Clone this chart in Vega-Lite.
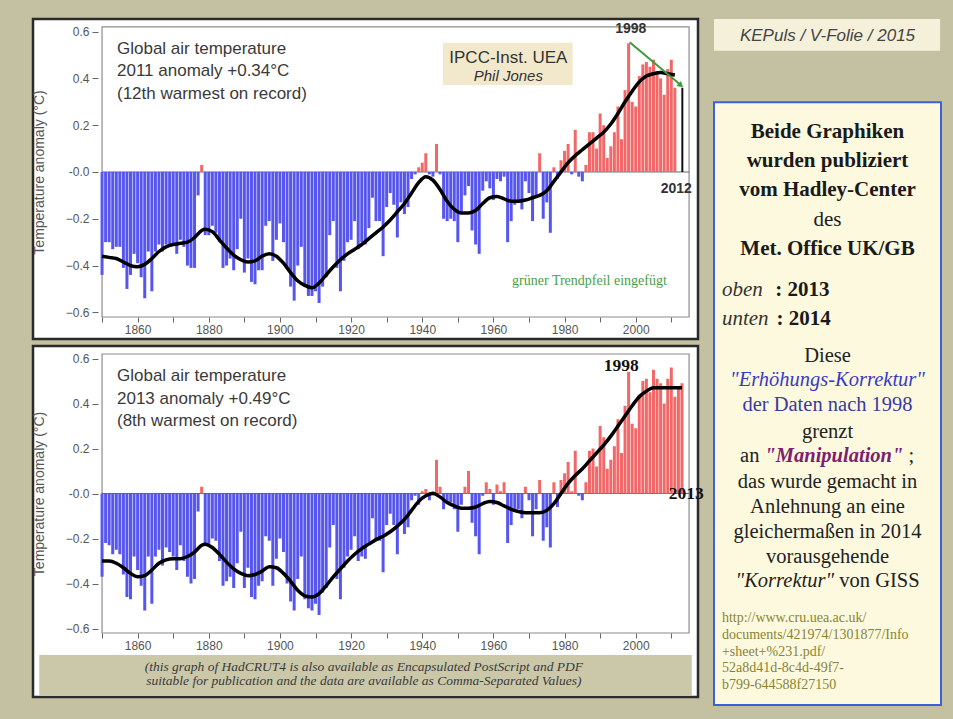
{
  "$schema": "https://vega.github.io/schema/vega-lite/v6.json",
  "background": "#c4c0a2",
  "padding": {"left": 31, "top": 17, "right": 12, "bottom": 7},
  "spacing": 8,
  "config": {"view": {"stroke": null}, "font": "Liberation Sans"},
  "datasets": {
    "h3": [
      {"year":1850,"v":-0.44},{"year":1851,"v":-0.30},{"year":1852,"v":-0.30},{"year":1853,"v":-0.33},{"year":1854,"v":-0.32},{"year":1855,"v":-0.32},{"year":1856,"v":-0.41},{"year":1857,"v":-0.50},{"year":1858,"v":-0.44},{"year":1859,"v":-0.35},
      {"year":1860,"v":-0.39},{"year":1861,"v":-0.45},{"year":1862,"v":-0.54},{"year":1863,"v":-0.34},{"year":1864,"v":-0.51},{"year":1865,"v":-0.34},{"year":1866,"v":-0.31},{"year":1867,"v":-0.34},{"year":1868,"v":-0.31},{"year":1869,"v":-0.31},
      {"year":1870,"v":-0.31},{"year":1871,"v":-0.35},{"year":1872,"v":-0.29},{"year":1873,"v":-0.32},{"year":1874,"v":-0.40},{"year":1875,"v":-0.41},{"year":1876,"v":-0.41},{"year":1877,"v":-0.10},{"year":1878,"v":0.03},{"year":1879,"v":-0.27},
      {"year":1880,"v":-0.27},{"year":1881,"v":-0.23},{"year":1882,"v":-0.26},{"year":1883,"v":-0.30},{"year":1884,"v":-0.41},{"year":1885,"v":-0.40},{"year":1886,"v":-0.37},{"year":1887,"v":-0.42},{"year":1888,"v":-0.33},{"year":1889,"v":-0.20},
      {"year":1890,"v":-0.43},{"year":1891,"v":-0.37},{"year":1892,"v":-0.47},{"year":1893,"v":-0.48},{"year":1894,"v":-0.42},{"year":1895,"v":-0.42},{"year":1896,"v":-0.23},{"year":1897,"v":-0.21},{"year":1898,"v":-0.38},{"year":1899,"v":-0.29},
      {"year":1900,"v":-0.22},{"year":1901,"v":-0.30},{"year":1902,"v":-0.41},{"year":1903,"v":-0.49},{"year":1904,"v":-0.55},{"year":1905,"v":-0.40},{"year":1906,"v":-0.32},{"year":1907,"v":-0.49},{"year":1908,"v":-0.53},{"year":1909,"v":-0.53},
      {"year":1910,"v":-0.51},{"year":1911,"v":-0.56},{"year":1912,"v":-0.49},{"year":1913,"v":-0.45},{"year":1914,"v":-0.27},{"year":1915,"v":-0.21},{"year":1916,"v":-0.41},{"year":1917,"v":-0.51},{"year":1918,"v":-0.38},{"year":1919,"v":-0.30},
      {"year":1920,"v":-0.29},{"year":1921,"v":-0.21},{"year":1922,"v":-0.33},{"year":1923,"v":-0.30},{"year":1924,"v":-0.31},{"year":1925,"v":-0.24},{"year":1926,"v":-0.11},{"year":1927,"v":-0.21},{"year":1928,"v":-0.21},{"year":1929,"v":-0.36},
      {"year":1930,"v":-0.15},{"year":1931,"v":-0.09},{"year":1932,"v":-0.14},{"year":1933,"v":-0.28},{"year":1934,"v":-0.13},{"year":1935,"v":-0.18},{"year":1936,"v":-0.15},{"year":1937,"v":-0.03},{"year":1938,"v":-0.01},{"year":1939,"v":0.02},
      {"year":1940,"v":0.04},{"year":1941,"v":0.08},{"year":1942,"v":-0.01},{"year":1943,"v":-0.02},{"year":1944,"v":0.12},{"year":1945,"v":-0.01},{"year":1946,"v":-0.20},{"year":1947,"v":-0.21},{"year":1948,"v":-0.20},{"year":1949,"v":-0.21},
      {"year":1950,"v":-0.30},{"year":1951,"v":-0.17},{"year":1952,"v":-0.10},{"year":1953,"v":-0.06},{"year":1954,"v":-0.25},{"year":1955,"v":-0.31},{"year":1956,"v":-0.35},{"year":1957,"v":-0.08},{"year":1958,"v":-0.04},{"year":1959,"v":-0.07},
      {"year":1960,"v":-0.12},{"year":1961,"v":-0.03},{"year":1962,"v":-0.04},{"year":1963,"v":-0.02},{"year":1964,"v":-0.30},{"year":1965,"v":-0.21},{"year":1966,"v":-0.14},{"year":1967,"v":-0.12},{"year":1968,"v":-0.16},{"year":1969,"v":-0.04},
      {"year":1970,"v":-0.09},{"year":1971,"v":-0.21},{"year":1972,"v":-0.11},{"year":1973,"v":0.08},{"year":1974,"v":-0.20},{"year":1975,"v":-0.13},{"year":1976,"v":-0.26},{"year":1977,"v":0.02},{"year":1978,"v":-0.03},{"year":1979,"v":0.05},
      {"year":1980,"v":0.09},{"year":1981,"v":0.12},{"year":1982,"v":-0.01},{"year":1983,"v":0.18},{"year":1984,"v":-0.02},{"year":1985,"v":-0.04},{"year":1986,"v":0.03},{"year":1987,"v":0.17},{"year":1988,"v":0.17},{"year":1989,"v":0.10},
      {"year":1990,"v":0.25},{"year":1991,"v":0.20},{"year":1992,"v":0.06},{"year":1993,"v":0.11},{"year":1994,"v":0.17},{"year":1995,"v":0.28},{"year":1996,"v":0.14},{"year":1997,"v":0.35},{"year":1998,"v":0.55},{"year":1999,"v":0.30},
      {"year":2000,"v":0.28},{"year":2001,"v":0.41},{"year":2002,"v":0.46},{"year":2003,"v":0.47},{"year":2004,"v":0.45},{"year":2005,"v":0.48},{"year":2006,"v":0.43},{"year":2007,"v":0.40},{"year":2008,"v":0.33},{"year":2009,"v":0.44},
      {"year":2010,"v":0.48},{"year":2011,"v":0.36}
    ],
    "h4": [
      {"year":1850,"v":-0.37},{"year":1851,"v":-0.22},{"year":1852,"v":-0.23},{"year":1853,"v":-0.27},{"year":1854,"v":-0.25},{"year":1855,"v":-0.27},{"year":1856,"v":-0.36},{"year":1857,"v":-0.46},{"year":1858,"v":-0.47},{"year":1859,"v":-0.28},
      {"year":1860,"v":-0.34},{"year":1861,"v":-0.41},{"year":1862,"v":-0.52},{"year":1863,"v":-0.28},{"year":1864,"v":-0.49},{"year":1865,"v":-0.28},{"year":1866,"v":-0.25},{"year":1867,"v":-0.32},{"year":1868,"v":-0.24},{"year":1869,"v":-0.26},
      {"year":1870,"v":-0.28},{"year":1871,"v":-0.34},{"year":1872,"v":-0.23},{"year":1873,"v":-0.30},{"year":1874,"v":-0.37},{"year":1875,"v":-0.40},{"year":1876,"v":-0.38},{"year":1877,"v":-0.08},{"year":1878,"v":0.03},{"year":1879,"v":-0.23},
      {"year":1880,"v":-0.23},{"year":1881,"v":-0.20},{"year":1882,"v":-0.21},{"year":1883,"v":-0.30},{"year":1884,"v":-0.41},{"year":1885,"v":-0.39},{"year":1886,"v":-0.37},{"year":1887,"v":-0.42},{"year":1888,"v":-0.31},{"year":1889,"v":-0.17},
      {"year":1890,"v":-0.42},{"year":1891,"v":-0.33},{"year":1892,"v":-0.46},{"year":1893,"v":-0.47},{"year":1894,"v":-0.41},{"year":1895,"v":-0.39},{"year":1896,"v":-0.19},{"year":1897,"v":-0.21},{"year":1898,"v":-0.41},{"year":1899,"v":-0.29},
      {"year":1900,"v":-0.20},{"year":1901,"v":-0.26},{"year":1902,"v":-0.40},{"year":1903,"v":-0.48},{"year":1904,"v":-0.52},{"year":1905,"v":-0.38},{"year":1906,"v":-0.28},{"year":1907,"v":-0.47},{"year":1908,"v":-0.51},{"year":1909,"v":-0.52},
      {"year":1910,"v":-0.49},{"year":1911,"v":-0.54},{"year":1912,"v":-0.44},{"year":1913,"v":-0.42},{"year":1914,"v":-0.24},{"year":1915,"v":-0.14},{"year":1916,"v":-0.38},{"year":1917,"v":-0.47},{"year":1918,"v":-0.33},{"year":1919,"v":-0.28},
      {"year":1920,"v":-0.25},{"year":1921,"v":-0.19},{"year":1922,"v":-0.30},{"year":1923,"v":-0.28},{"year":1924,"v":-0.29},{"year":1925,"v":-0.22},{"year":1926,"v":-0.11},{"year":1927,"v":-0.21},{"year":1928,"v":-0.21},{"year":1929,"v":-0.35},
      {"year":1930,"v":-0.14},{"year":1931,"v":-0.09},{"year":1932,"v":-0.14},{"year":1933,"v":-0.27},{"year":1934,"v":-0.13},{"year":1935,"v":-0.18},{"year":1936,"v":-0.15},{"year":1937,"v":-0.03},{"year":1938,"v":-0.01},{"year":1939,"v":-0.05},
      {"year":1940,"v":0.01},{"year":1941,"v":0.02},{"year":1942,"v":-0.03},{"year":1943,"v":0.01},{"year":1944,"v":0.15},{"year":1945,"v":0.03},{"year":1946,"v":-0.07},{"year":1947,"v":-0.04},{"year":1948,"v":-0.04},{"year":1949,"v":-0.07},
      {"year":1950,"v":-0.17},{"year":1951,"v":-0.05},{"year":1952,"v":0.03},{"year":1953,"v":0.10},{"year":1954,"v":-0.13},{"year":1955,"v":-0.19},{"year":1956,"v":-0.27},{"year":1957,"v":-0.01},{"year":1958,"v":0.05},{"year":1959,"v":0.02},
      {"year":1960,"v":-0.05},{"year":1961,"v":0.04},{"year":1962,"v":0.01},{"year":1963,"v":0.05},{"year":1964,"v":-0.22},{"year":1965,"v":-0.14},{"year":1966,"v":-0.07},{"year":1967,"v":-0.07},{"year":1968,"v":-0.11},{"year":1969,"v":0.03},
      {"year":1970,"v":-0.03},{"year":1971,"v":-0.19},{"year":1972,"v":-0.07},{"year":1973,"v":0.06},{"year":1974,"v":-0.21},{"year":1975,"v":-0.15},{"year":1976,"v":-0.24},{"year":1977,"v":0.05},{"year":1978,"v":-0.06},{"year":1979,"v":0.06},
      {"year":1980,"v":0.09},{"year":1981,"v":0.14},{"year":1982,"v":0.01},{"year":1983,"v":0.19},{"year":1984,"v":-0.01},{"year":1985,"v":-0.03},{"year":1986,"v":0.05},{"year":1987,"v":0.19},{"year":1988,"v":0.20},{"year":1989,"v":0.12},
      {"year":1990,"v":0.30},{"year":1991,"v":0.25},{"year":1992,"v":0.11},{"year":1993,"v":0.15},{"year":1994,"v":0.21},{"year":1995,"v":0.33},{"year":1996,"v":0.18},{"year":1997,"v":0.39},{"year":1998,"v":0.54},{"year":1999,"v":0.31},
      {"year":2000,"v":0.29},{"year":2001,"v":0.44},{"year":2002,"v":0.50},{"year":2003,"v":0.51},{"year":2004,"v":0.45},{"year":2005,"v":0.55},{"year":2006,"v":0.51},{"year":2007,"v":0.49},{"year":2008,"v":0.40},{"year":2009,"v":0.51},
      {"year":2010,"v":0.56},{"year":2011,"v":0.43},{"year":2012,"v":0.47},{"year":2013,"v":0.49}
    ],
    "s3": [
      {"year":1850,"v":-0.36},{"year":1852,"v":-0.365},{"year":1854,"v":-0.37},{"year":1856,"v":-0.385},{"year":1858,"v":-0.40},{"year":1860,"v":-0.405},{"year":1862,"v":-0.395},{"year":1864,"v":-0.37},{"year":1866,"v":-0.34},{"year":1868,"v":-0.32},
      {"year":1870,"v":-0.31},{"year":1872,"v":-0.305},{"year":1874,"v":-0.30},{"year":1876,"v":-0.28},{"year":1878,"v":-0.25},{"year":1879,"v":-0.245},{"year":1881,"v":-0.255},{"year":1883,"v":-0.29},{"year":1885,"v":-0.325},{"year":1887,"v":-0.355},
      {"year":1889,"v":-0.375},{"year":1891,"v":-0.385},{"year":1893,"v":-0.38},{"year":1895,"v":-0.36},{"year":1897,"v":-0.35},{"year":1899,"v":-0.36},{"year":1901,"v":-0.39},{"year":1903,"v":-0.43},{"year":1905,"v":-0.465},{"year":1907,"v":-0.485},
      {"year":1909,"v":-0.495},{"year":1911,"v":-0.475},{"year":1913,"v":-0.44},{"year":1915,"v":-0.405},{"year":1917,"v":-0.375},{"year":1919,"v":-0.35},{"year":1921,"v":-0.33},{"year":1923,"v":-0.31},{"year":1925,"v":-0.285},{"year":1927,"v":-0.26},
      {"year":1929,"v":-0.235},{"year":1931,"v":-0.205},{"year":1933,"v":-0.17},{"year":1935,"v":-0.135},{"year":1937,"v":-0.09},{"year":1939,"v":-0.045},{"year":1941,"v":-0.02},{"year":1943,"v":-0.035},{"year":1945,"v":-0.075},{"year":1947,"v":-0.125},
      {"year":1949,"v":-0.16},{"year":1951,"v":-0.175},{"year":1953,"v":-0.175},{"year":1955,"v":-0.165},{"year":1957,"v":-0.135},{"year":1959,"v":-0.11},{"year":1961,"v":-0.105},{"year":1963,"v":-0.115},{"year":1965,"v":-0.125},{"year":1967,"v":-0.125},
      {"year":1969,"v":-0.12},{"year":1971,"v":-0.11},{"year":1973,"v":-0.10},{"year":1975,"v":-0.08},{"year":1977,"v":-0.04},{"year":1979,"v":0.0},{"year":1981,"v":0.04},{"year":1983,"v":0.07},{"year":1985,"v":0.095},{"year":1987,"v":0.12},
      {"year":1989,"v":0.145},{"year":1991,"v":0.17},{"year":1993,"v":0.205},{"year":1995,"v":0.25},{"year":1997,"v":0.30},{"year":1999,"v":0.345},{"year":2001,"v":0.385},{"year":2003,"v":0.41},{"year":2005,"v":0.42},{"year":2007,"v":0.425},
      {"year":2009,"v":0.42},{"year":2011,"v":0.415}
    ],
    "s4": [
      {"year":1850,"v":-0.30},{"year":1852,"v":-0.30},{"year":1854,"v":-0.31},{"year":1856,"v":-0.33},{"year":1858,"v":-0.355},{"year":1860,"v":-0.37},{"year":1862,"v":-0.365},{"year":1864,"v":-0.34},{"year":1866,"v":-0.31},{"year":1868,"v":-0.295},
      {"year":1870,"v":-0.29},{"year":1872,"v":-0.29},{"year":1874,"v":-0.28},{"year":1876,"v":-0.26},{"year":1878,"v":-0.23},{"year":1879,"v":-0.225},{"year":1881,"v":-0.24},{"year":1883,"v":-0.27},{"year":1885,"v":-0.305},{"year":1887,"v":-0.335},
      {"year":1889,"v":-0.355},{"year":1891,"v":-0.365},{"year":1893,"v":-0.36},{"year":1895,"v":-0.345},{"year":1897,"v":-0.325},{"year":1899,"v":-0.33},{"year":1901,"v":-0.355},{"year":1903,"v":-0.39},{"year":1905,"v":-0.43},{"year":1907,"v":-0.455},
      {"year":1909,"v":-0.46},{"year":1911,"v":-0.445},{"year":1913,"v":-0.41},{"year":1915,"v":-0.37},{"year":1917,"v":-0.335},{"year":1919,"v":-0.30},{"year":1921,"v":-0.27},{"year":1923,"v":-0.245},{"year":1925,"v":-0.225},{"year":1927,"v":-0.205},
      {"year":1929,"v":-0.19},{"year":1931,"v":-0.17},{"year":1933,"v":-0.145},{"year":1935,"v":-0.115},{"year":1937,"v":-0.075},{"year":1939,"v":-0.035},{"year":1941,"v":-0.01},{"year":1943,"v":0.0},{"year":1945,"v":-0.015},{"year":1947,"v":-0.04},
      {"year":1949,"v":-0.055},{"year":1951,"v":-0.065},{"year":1953,"v":-0.065},{"year":1955,"v":-0.06},{"year":1957,"v":-0.045},{"year":1959,"v":-0.035},{"year":1961,"v":-0.04},{"year":1963,"v":-0.055},{"year":1965,"v":-0.07},{"year":1967,"v":-0.08},
      {"year":1969,"v":-0.085},{"year":1971,"v":-0.085},{"year":1973,"v":-0.085},{"year":1975,"v":-0.075},{"year":1977,"v":-0.045},{"year":1979,"v":0.0},{"year":1981,"v":0.045},{"year":1983,"v":0.08},{"year":1985,"v":0.11},{"year":1987,"v":0.145},
      {"year":1989,"v":0.18},{"year":1991,"v":0.215},{"year":1993,"v":0.255},{"year":1995,"v":0.30},{"year":1997,"v":0.345},{"year":1999,"v":0.39},{"year":2001,"v":0.43},{"year":2003,"v":0.455},{"year":2005,"v":0.47},{"year":2007,"v":0.47},
      {"year":2009,"v":0.47},{"year":2011,"v":0.47},{"year":2013,"v":0.47}
    ]
  },
  "hconcat": [
    {
      "spacing": 3,
      "vconcat": [
        {
          "width": 665, "height": 320,
          "view": {"fill": "#ffffff", "stroke": "#2a2a2a", "strokeWidth": 2.5},
          "layer": [
            {"data": {"values": [{"part": "plot"}]},
             "mark": {"type": "rect", "filled": false, "stroke": "#8c8c8c", "strokeWidth": 1.2},
             "encoding": {
               "x": {"datum": 1850, "type": "quantitative", "scale": {"domain": [1832, 2016.1], "nice": false, "zero": false},
                     "axis": {"values": [1850,1855,1860,1865,1870,1875,1880,1885,1890,1895,1900,1905,1910,1915,1920,1925,1930,1935,1940,1945,1950,1955,1960,1965,1970,1975,1980,1985,1990,1995,2000,2005,2010],
                              "format": "d", "labelExpr": "datum.value % 20 == 0 ? datum.label : ''", "title": null, "grid": false, "domain": false, "offset": -22,
                              "tickSize": 5, "tickColor": "#666666", "labelColor": "#555555", "labelFontSize": 12,
                              "labelFont": "Liberation Sans", "labelPadding": 2, "labelFlush": false, "labelOverlap": false, "zindex": 1}},
               "x2": {"datum": 2015},
               "y": {"datum": 0.62, "type": "quantitative", "scale": {"domain": [-0.714, 0.654], "nice": false, "zero": false},
                     "axis": {"values": [-0.6,-0.4,-0.2,0,0.2,0.4,0.6], "labelExpr": "datum.value == 0 ? '-0.0' : format(datum.value, '.1f')",
                              "title": "Temperature anomaly (°C)", "titleFont": "Liberation Sans", "titleFontSize": 14, "titleFontWeight": "normal",
                              "titleColor": "#555555", "titlePadding": 19, "titleY": 153, "grid": false, "domain": false, "offset": -65, "tickSize": 6, "tickColor": "#666666",
                              "labelColor": "#555555", "labelFontSize": 12, "labelFont": "Liberation Sans", "labelPadding": 3, "zindex": 1}},
               "y2": {"datum": -0.62}}},
            {"data": {"values": [{"part": "zero"}]},
             "mark": {"type": "rule", "color": "#666666", "strokeWidth": 1},
             "encoding": {"x": {"datum": 1850}, "x2": {"datum": 2015}, "y": {"datum": 0}}},
            {"data": {"name": "h3"},
             "mark": {"type": "bar", "width": 3},
             "encoding": {
               "x": {"field": "year", "type": "quantitative"},
               "y": {"field": "v", "type": "quantitative"},
               "y2": {"datum": 0},
               "color": {"condition": {"test": "datum.v > 0", "value": "#f26868"}, "value": "#5656ee"}}},
            {"data": {"name": "s3"},
             "mark": {"type": "line", "color": "#000000", "strokeWidth": 3.5, "interpolate": "monotone"},
             "encoding": {"x": {"field": "year", "type": "quantitative"}, "y": {"field": "v", "type": "quantitative"}}},
            {"data": {"values": [{"part": "end"}]},
             "mark": {"type": "rule", "color": "#111111", "strokeWidth": 2},
             "encoding": {"x": {"datum": 2013.1}, "y": {"datum": 0}, "y2": {"datum": 0.36}}},
            {"data": {"values": [{"part": "trend"}]},
             "mark": {"type": "rule", "color": "#3c9c3c", "strokeWidth": 2},
             "encoding": {"x": {"datum": 1998.3}, "y": {"datum": 0.555}, "x2": {"datum": 2012.4}, "y2": {"datum": 0.375}}},
            {"data": {"values": [{"part": "arrowhead"}]},
             "mark": {"type": "point", "shape": "triangle-right", "filled": true, "color": "#3c9c3c", "size": 45, "angle": 41, "opacity": 1},
             "encoding": {"x": {"datum": 2012.7}, "y": {"datum": 0.37}}},
            {"data": {"values": [{"part": "ipccbox"}]},
             "mark": {"type": "rect", "fill": "#f2e9cc"},
             "encoding": {"x": {"datum": 1945.8}, "x2": {"datum": 1982.3}, "y": {"datum": 0.552}, "y2": {"datum": 0.372}}},
            {"data": {"values": [{"t": "IPCC-Inst. UEA"}]},
             "mark": {"type": "text", "fontSize": 17, "color": "#333333", "baseline": "middle", "align": "center"},
             "encoding": {"x": {"datum": 1964.2}, "y": {"datum": 0.489}, "text": {"field": "t"}}},
            {"data": {"values": [{"t": "Phil Jones"}]},
             "mark": {"type": "text", "fontSize": 15, "fontStyle": "italic", "color": "#333333", "baseline": "middle", "align": "center"},
             "encoding": {"x": {"datum": 1964.2}, "y": {"datum": 0.41}, "text": {"field": "t"}}},
            {"data": {"values": [{"t": ["Global air temperature", "2011 anomaly +0.34°C", "(12th warmest on record)"]}]},
             "mark": {"type": "text", "fontSize": 17, "color": "#3a3a3a", "baseline": "middle", "align": "left", "lineHeight": 22.5},
             "encoding": {"x": {"datum": 1854.2}, "y": {"datum": 0.526}, "text": {"field": "t"}}},
            {"data": {"values": [{"t": "grüner Trendpfeil eingefügt"}]},
             "mark": {"type": "text", "fontSize": 14, "font": "Liberation Serif", "color": "#4a9e4a", "baseline": "middle", "align": "center"},
             "encoding": {"x": {"datum": 1987}, "y": {"datum": -0.466}, "text": {"field": "t"}}},
            {"data": {"values": [{"t": "1998"}]},
             "mark": {"type": "text", "fontSize": 14, "fontWeight": "bold", "color": "#333333", "baseline": "middle", "align": "center"},
             "encoding": {"x": {"datum": 1998.6}, "y": {"datum": 0.61}, "text": {"field": "t"}}},
            {"data": {"values": [{"t": "2012"}]},
             "mark": {"type": "text", "fontSize": 14, "fontWeight": "bold", "color": "#333333", "baseline": "middle", "align": "center"},
             "encoding": {"x": {"datum": 2011.4}, "y": {"datum": -0.072}, "text": {"field": "t"}}}
          ]
        },
        {
          "width": 665, "height": 351,
          "view": {"fill": "#ffffff", "stroke": "#2a2a2a", "strokeWidth": 2.5},
          "layer": [
            {"data": {"values": [{"part": "captionband"}]},
             "mark": {"type": "rect", "fill": "#cbc7a9"},
             "encoding": {
               "x": {"datum": 1832.35, "type": "quantitative", "scale": {"domain": [1832, 2016.1], "nice": false, "zero": false},
                     "axis": {"values": [1850,1855,1860,1865,1870,1875,1880,1885,1890,1895,1900,1905,1910,1915,1920,1925,1930,1935,1940,1945,1950,1955,1960,1965,1970,1975,1980,1985,1990,1995,2000,2005,2010],
                              "format": "d", "labelExpr": "datum.value % 20 == 0 ? datum.label : ''", "title": null, "grid": false, "domain": false, "offset": -64,
                              "tickSize": 5, "tickColor": "#666666", "labelColor": "#555555", "labelFontSize": 12,
                              "labelFont": "Liberation Sans", "labelPadding": 2, "labelFlush": false, "labelOverlap": false, "zindex": 1}},
               "x2": {"datum": 2015.75},
               "y": {"datum": -0.7178, "type": "quantitative", "scale": {"domain": [-0.9044, 0.6556], "nice": false, "zero": false},
                     "axis": {"values": [-0.6,-0.4,-0.2,0,0.2,0.4,0.6], "labelExpr": "datum.value == 0 ? '-0.0' : format(datum.value, '.1f')",
                              "title": "Temperature anomaly (°C)", "titleFont": "Liberation Sans", "titleFontSize": 14, "titleFontWeight": "normal",
                              "titleColor": "#555555", "titlePadding": 19, "titleY": 147.5, "grid": false, "domain": false, "offset": -65, "tickSize": 6, "tickColor": "#666666",
                              "labelColor": "#555555", "labelFontSize": 12, "labelFont": "Liberation Sans", "labelPadding": 3, "zindex": 1}},
               "y2": {"datum": -0.8988}}},
            {"data": {"values": [{"part": "plot"}]},
             "mark": {"type": "rect", "filled": false, "stroke": "#8c8c8c", "strokeWidth": 1.2},
             "encoding": {"x": {"datum": 1850}, "x2": {"datum": 2015}, "y": {"datum": 0.62}, "y2": {"datum": -0.62}}},
            {"data": {"values": [{"part": "zero"}]},
             "mark": {"type": "rule", "color": "#666666", "strokeWidth": 1},
             "encoding": {"x": {"datum": 1850}, "x2": {"datum": 2015}, "y": {"datum": 0}}},
            {"data": {"name": "h4"},
             "mark": {"type": "bar", "width": 3},
             "encoding": {
               "x": {"field": "year", "type": "quantitative"},
               "y": {"field": "v", "type": "quantitative"},
               "y2": {"datum": 0},
               "color": {"condition": {"test": "datum.v > 0", "value": "#f26868"}, "value": "#5656ee"}}},
            {"data": {"name": "s4"},
             "mark": {"type": "line", "color": "#000000", "strokeWidth": 3.5, "interpolate": "monotone"},
             "encoding": {"x": {"field": "year", "type": "quantitative"}, "y": {"field": "v", "type": "quantitative"}}},
            {"data": {"values": [{"t": ["Global air temperature", "2013 anomaly +0.49°C", "(8th warmest on record)"]}]},
             "mark": {"type": "text", "fontSize": 17, "color": "#3a3a3a", "baseline": "middle", "align": "left", "lineHeight": 22.5},
             "encoding": {"x": {"datum": 1854.2}, "y": {"datum": 0.522}, "text": {"field": "t"}}},
            {"data": {"values": [{"t": "1998"}]},
             "mark": {"type": "text", "fontSize": 17.5, "font": "Liberation Serif", "fontWeight": "bold", "color": "#111111", "baseline": "middle", "align": "center"},
             "encoding": {"x": {"datum": 1995.9}, "y": {"datum": 0.567}, "text": {"field": "t"}}},
            {"data": {"values": [{"t": "2013"}]},
             "mark": {"type": "text", "fontSize": 17.5, "font": "Liberation Serif", "fontWeight": "bold", "color": "#111111", "baseline": "middle", "align": "center"},
             "encoding": {"x": {"datum": 2014.2}, "y": {"datum": -0.004}, "text": {"field": "t"}}},
            {"data": {"values": [{"t": ["(this graph of HadCRUT4 is also available as Encapsulated PostScript and PDF", "suitable for publication and the data are available as Comma-Separated Values)"]}]},
             "mark": {"type": "text", "fontSize": 13.5, "font": "Liberation Serif", "fontStyle": "italic", "color": "#3a3a3a", "baseline": "middle", "align": "center", "lineHeight": 14.5},
             "encoding": {"x": {"datum": 1923.6}, "y": {"datum": -0.771}, "text": {"field": "t"}}}
          ]
        }
      ]
    },
    {
      "width": 227, "height": 693,
      "layer": [
        {"data": {"values": [{"part": "kepbox"}]},
         "mark": {"type": "rect", "fill": "#f4f0d9"},
         "encoding": {
           "x": {"datum": 0, "type": "quantitative", "scale": {"domain": [0, 1]}, "axis": null},
           "x2": {"datum": 0.996},
           "y": {"datum": 0, "type": "quantitative", "scale": {"domain": [0, 69.3], "reverse": true}, "axis": null},
           "y2": {"datum": 3.2}}},
        {"data": {"values": [{"t": "KEPuls / V-Folie / 2015"}]},
         "mark": {"type": "text", "fontSize": 17, "fontStyle": "italic", "color": "#444444", "baseline": "middle", "align": "center"},
         "encoding": {"x": {"datum": 0.5, "axis": null}, "y": {"datum": 1.7, "axis": null}, "text": {"field": "t"}}},
        {"data": {"values": [{"part": "notebox"}]},
         "mark": {"type": "rect", "fill": "#fcf9de", "stroke": "#3d5fd8", "strokeWidth": 2},
         "encoding": {"x": {"datum": 0, "axis": null}, "x2": {"datum": 1}, "y": {"datum": 8.4, "axis": null}, "y2": {"datum": 69.3}}},
        {"data": {"values": [{"t": ["Beide Graphiken", "wurden publiziert", "vom Hadley-Center"]}]},
         "mark": {"type": "text", "font": "Liberation Serif", "fontSize": 21, "fontWeight": "bold", "color": "#1a1a1a", "baseline": "middle", "align": "center", "lineHeight": 29},
         "encoding": {"x": {"datum": 0.5, "axis": null}, "y": {"datum": 11.4, "axis": null}, "text": {"field": "t"}}},
        {"data": {"values": [{"t": "des"}]},
         "mark": {"type": "text", "font": "Liberation Serif", "fontSize": 21, "color": "#1a1a1a", "baseline": "middle", "align": "center"},
         "encoding": {"x": {"datum": 0.5, "axis": null}, "y": {"datum": 20.3, "axis": null}, "text": {"field": "t"}}},
        {"data": {"values": [{"t": "Met. Office UK/GB"}]},
         "mark": {"type": "text", "font": "Liberation Serif", "fontSize": 21, "fontWeight": "bold", "color": "#1a1a1a", "baseline": "middle", "align": "center"},
         "encoding": {"x": {"datum": 0.5, "axis": null}, "y": {"datum": 23.2, "axis": null}, "text": {"field": "t"}}},
        {"data": {"values": [{"t": ["oben", "unten"]}]},
         "mark": {"type": "text", "font": "Liberation Serif", "fontSize": 21, "fontStyle": "italic", "color": "#333333", "baseline": "middle", "align": "left", "lineHeight": 29},
         "encoding": {"x": {"datum": 0.035, "axis": null}, "y": {"datum": 27.4, "axis": null}, "text": {"field": "t"}}},
        {"data": {"values": [{"t": ": 2013"}]},
         "mark": {"type": "text", "font": "Liberation Serif", "fontSize": 21, "fontWeight": "bold", "color": "#1a1a1a", "baseline": "middle", "align": "left"},
         "encoding": {"x": {"datum": 0.27, "axis": null}, "y": {"datum": 27.4, "axis": null}, "text": {"field": "t"}}},
        {"data": {"values": [{"t": ": 2014"}]},
         "mark": {"type": "text", "font": "Liberation Serif", "fontSize": 21, "fontWeight": "bold", "color": "#1a1a1a", "baseline": "middle", "align": "left"},
         "encoding": {"x": {"datum": 0.275, "axis": null}, "y": {"datum": 30.3, "axis": null}, "text": {"field": "t"}}},
        {"data": {"values": [{"t": "Diese"}]},
         "mark": {"type": "text", "font": "Liberation Serif", "fontSize": 20.5, "color": "#222222", "baseline": "middle", "align": "center"},
         "encoding": {"x": {"datum": 0.5, "axis": null}, "y": {"datum": 34.0, "axis": null}, "text": {"field": "t"}}},
        {"data": {"values": [{"t": "\"Erhöhungs-Korrektur\""}]},
         "mark": {"type": "text", "font": "Liberation Serif", "fontSize": 20.5, "fontStyle": "italic", "color": "#3a3ac8", "baseline": "middle", "align": "center"},
         "encoding": {"x": {"datum": 0.5, "axis": null}, "y": {"datum": 36.5, "axis": null}, "text": {"field": "t"}}},
        {"data": {"values": [{"t": "der Daten nach 1998"}]},
         "mark": {"type": "text", "font": "Liberation Serif", "fontSize": 20.5, "color": "#3a3aa0", "baseline": "middle", "align": "center"},
         "encoding": {"x": {"datum": 0.5, "axis": null}, "y": {"datum": 39.0, "axis": null}, "text": {"field": "t"}}},
        {"data": {"values": [{"t": "grenzt"}]},
         "mark": {"type": "text", "font": "Liberation Serif", "fontSize": 20.5, "color": "#222222", "baseline": "middle", "align": "center"},
         "encoding": {"x": {"datum": 0.5, "axis": null}, "y": {"datum": 41.7, "axis": null}, "text": {"field": "t"}}},
        {"data": {"values": [{"t": "an"}]},
         "mark": {"type": "text", "font": "Liberation Serif", "fontSize": 20.5, "color": "#222222", "baseline": "middle", "align": "left"},
         "encoding": {"x": {"datum": 0.115, "axis": null}, "y": {"datum": 44.1, "axis": null}, "text": {"field": "t"}}},
        {"data": {"values": [{"t": "\"Manipulation\""}]},
         "mark": {"type": "text", "font": "Liberation Serif", "fontSize": 20.5, "fontStyle": "italic", "fontWeight": "bold", "color": "#7b1f6e", "baseline": "middle", "align": "left"},
         "encoding": {"x": {"datum": 0.222, "axis": null}, "y": {"datum": 44.1, "axis": null}, "text": {"field": "t"}}},
        {"data": {"values": [{"t": ";"}]},
         "mark": {"type": "text", "font": "Liberation Serif", "fontSize": 20.5, "color": "#222222", "baseline": "middle", "align": "left"},
         "encoding": {"x": {"datum": 0.857, "axis": null}, "y": {"datum": 44.1, "axis": null}, "text": {"field": "t"}}},
        {"data": {"values": [{"t": ["das wurde gemacht in", "Anlehnung an eine", "gleichermaßen in 2014", "vorausgehende"]}]},
         "mark": {"type": "text", "font": "Liberation Serif", "fontSize": 20.5, "color": "#222222", "baseline": "middle", "align": "center", "lineHeight": 25},
         "encoding": {"x": {"datum": 0.5, "axis": null}, "y": {"datum": 46.8, "axis": null}, "text": {"field": "t"}}},
        {"data": {"values": [{"t": "\"Korrektur\""}]},
         "mark": {"type": "text", "font": "Liberation Serif", "fontSize": 20.5, "fontStyle": "italic", "color": "#222222", "baseline": "middle", "align": "left"},
         "encoding": {"x": {"datum": 0.095, "axis": null}, "y": {"datum": 56.8, "axis": null}, "text": {"field": "t"}}},
        {"data": {"values": [{"t": "von GISS"}]},
         "mark": {"type": "text", "font": "Liberation Serif", "fontSize": 20.5, "color": "#222222", "baseline": "middle", "align": "left"},
         "encoding": {"x": {"datum": 0.552, "axis": null}, "y": {"datum": 56.8, "axis": null}, "text": {"field": "t"}}},
        {"data": {"values": [{"t": ["http://www.cru.uea.ac.uk/", "documents/421974/1301877/Info", "+sheet+%231.pdf/", "52a8d41d-8c4d-49f7-", "b799-644588f27150"]}]},
         "mark": {"type": "text", "font": "Liberation Serif", "fontSize": 14, "color": "#8a8432", "baseline": "middle", "align": "left", "lineHeight": 16.8},
         "encoding": {"x": {"datum": 0.035, "axis": null}, "y": {"datum": 60.5, "axis": null}, "text": {"field": "t"}}}
      ]
    }
  ]
}
